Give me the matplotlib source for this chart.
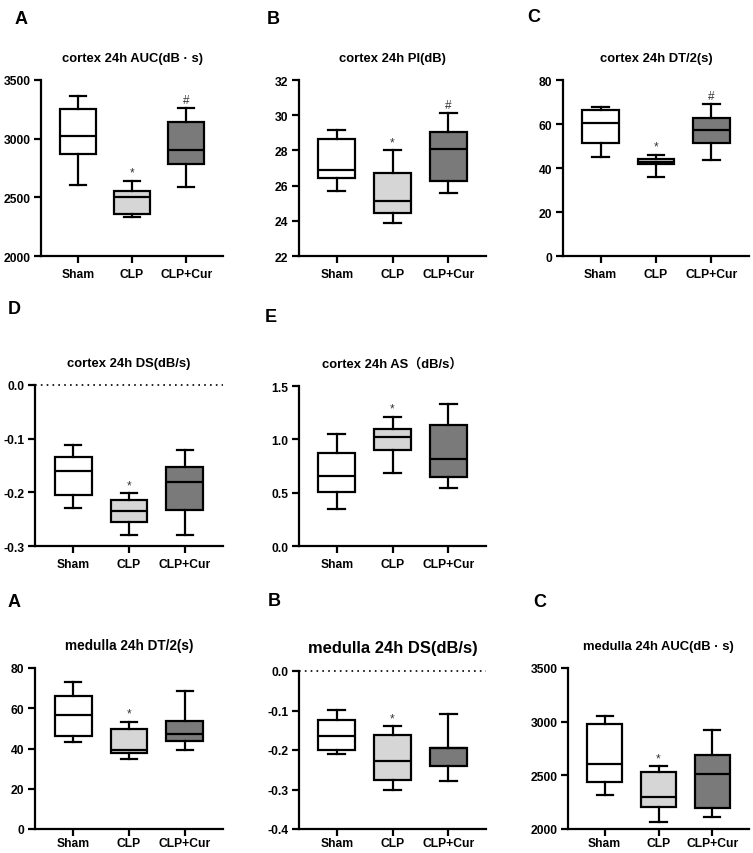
import matplotlib
matplotlib.use("Agg")
import matplotlib.pyplot as plt

plt.rcParams["font.family"] = ["Liberation Sans", "Noto Sans CJK SC", "DejaVu Sans"]
plt.rcParams["font.weight"] = "bold"

groups = ["Sham", "CLP", "CLP+Cur"]
box_colors = ["#ffffff", "#d6d6d6", "#7a7a7a"]

# each row: whislo, q1, med, q3, whishi for Sham, CLP, CLP+Cur
cortex_auc = [[2605, 2866, 3020, 3250, 3364],
              [2332, 2361, 2503, 2554, 2639],
              [2591, 2787, 2903, 3145, 3259]]
cortex_pi = [[25.67, 26.43, 26.87, 28.63, 29.14],
             [23.89, 24.44, 25.14, 26.70, 28.00],
             [25.58, 26.24, 28.08, 29.03, 30.13]]
cortex_dt = [[45.0, 51.5, 60.3, 66.5, 67.9],
             [36.1, 41.8, 42.9, 44.2, 46.1],
             [43.6, 51.4, 57.1, 62.9, 69.1]]
cortex_ds = [[-0.230, -0.205, -0.161, -0.135, -0.111],
             [-0.280, -0.255, -0.235, -0.215, -0.201],
             [-0.280, -0.232, -0.181, -0.152, -0.121]]
cortex_as = [[0.347, 0.51, 0.653, 0.869, 1.05],
             [0.681, 0.90, 1.022, 1.10, 1.2125],
             [0.544, 0.647, 0.8125, 1.1375, 1.334]]
medulla_dt = [[43.0, 46.3, 56.6, 66.3, 73.0],
              [34.7, 38.0, 39.3, 49.7, 53.3],
              [39.3, 43.8, 47.4, 53.5, 68.4]]
medulla_ds = [[-0.2095, -0.200, -0.164, -0.123, -0.099],
              [-0.300, -0.275, -0.229, -0.163, -0.140],
              [-0.279, -0.240, -0.195, -0.194, -0.109]]
medulla_auc = [[2316, 2436, 2604, 2982, 3055],
               [2068, 2209, 2295, 2531, 2586],
               [2108, 2197, 2512, 2693, 2927]]

W, H = 753, 854
fig = plt.figure(figsize=(W / 100, H / 100), dpi=100)


def px_axes(left, right, top, bottom):
    return fig.add_axes([left / W, 1 - bottom / H, (right - left) / W, (bottom - top) / H])


def draw_panel(rect, data, title, ylim, yticks, ticklabels, marks=None, zero_line=False,
               title_size=9.4, xpad=4):
    ax = px_axes(*rect)
    stats = []
    for row in data:
        stats.append({"whislo": row[0], "q1": row[1], "med": row[2], "q3": row[3],
                      "whishi": row[4], "fliers": []})
    bp = ax.bxp(stats, positions=[0, 1, 2], widths=0.66, patch_artist=True,
                showfliers=False,
                boxprops=dict(linewidth=1.6, edgecolor="black"),
                medianprops=dict(color="black", linewidth=1.6),
                whiskerprops=dict(linewidth=1.6, color="black"),
                capprops=dict(linewidth=1.6, color="black"),
                capwidths=0.3)
    for patch, c in zip(bp["boxes"], box_colors):
        patch.set_facecolor(c)
    ax.set_xlim(-0.68, 2.68)
    ax.set_ylim(*ylim)
    ax.set_yticks(yticks)
    ax.set_yticklabels(ticklabels, fontsize=8.7, fontweight="bold")
    ax.set_xticks([0, 1, 2])
    ax.set_xticklabels(groups, fontsize=8.7, fontweight="bold")
    for s in ["top", "right"]:
        ax.spines[s].set_visible(False)
    for s in ["left", "bottom"]:
        ax.spines[s].set_linewidth(1.6)
    ax.tick_params(direction="out", length=5, width=1.6, pad=2.5)
    ax.tick_params(axis="x", pad=xpad)
    if zero_line:
        ax.axhline(0, color="black", linestyle=(0, (1, 2.5)), linewidth=1.2, clip_on=False)
    if marks:
        span = ylim[1] - ylim[0]
        for i, m in enumerate(marks):
            if m:
                ax.text(i, data[i][4] + span * 0.012, m, ha="center", va="bottom",
                        fontsize=8.5, fontweight="normal", color="#333333")
    ax.set_title(title, fontsize=title_size, fontweight="bold", pad=14)
    return ax


draw_panel((41, 223, 81, 257), cortex_auc, "cortex 24h AUC(dB · s)", (2000, 3500),
           [2000, 2500, 3000, 3500], ["2000", "2500", "3000", "3500"], ["", "*", "#"])
draw_panel((299, 486, 81, 257), cortex_pi, "cortex 24h PI(dB)", (22, 32),
           [22, 24, 26, 28, 30, 32], ["22", "24", "26", "28", "30", "32"], ["", "*", "#"])
draw_panel((563, 749, 81, 257), cortex_dt, "cortex 24h DT/2(s)", (0, 80),
           [0, 20, 40, 60, 80], ["0", "20", "40", "60", "80"], ["", "*", "#"])
draw_panel((35, 223, 386, 547), cortex_ds, "cortex 24h DS(dB/s)", (-0.3, 0.0),
           [-0.3, -0.2, -0.1, 0.0], ["-0.3", "-0.2", "-0.1", "0.0"], ["", "*", ""],
           zero_line=True)
draw_panel((299, 486, 387, 547), cortex_as, "cortex 24h AS（dB/s）", (0.0, 1.5),
           [0.0, 0.5, 1.0, 1.5], ["0.0", "0.5", "1.0", "1.5"], ["", "*", ""])
draw_panel((35, 223, 669, 830), medulla_dt, "medulla 24h DT/2(s)", (0, 80),
           [0, 20, 40, 60, 80], ["0", "20", "40", "60", "80"], ["", "*", ""],
           title_size=9.8, xpad=1)
draw_panel((299, 486, 672, 830), medulla_ds, "medulla 24h DS(dB/s)", (-0.4, 0.0),
           [-0.4, -0.3, -0.2, -0.1, 0.0], ["-0.4", "-0.3", "-0.2", "-0.1", "0.0"],
           ["", "*", ""], zero_line=True, title_size=11.9, xpad=1)
draw_panel((568, 749, 669, 830), medulla_auc, "medulla 24h AUC(dB · s)", (2000, 3500),
           [2000, 2500, 3000, 3500], ["2000", "2500", "3000", "3500"], ["", "*", ""],
           xpad=1)

letters = [("A", 15, 20), ("B", 267, 20), ("C", 527, 17), ("D", 8, 310), ("E", 265, 317),
           ("A", 8, 603), ("B", 268, 602), ("C", 533, 603)]
for txt, x, y in letters:
    fig.text(x / W, 1 - y / H, txt, fontsize=13, fontweight="bold", va="center", ha="left")

fig.savefig("out.png", dpi=100)
